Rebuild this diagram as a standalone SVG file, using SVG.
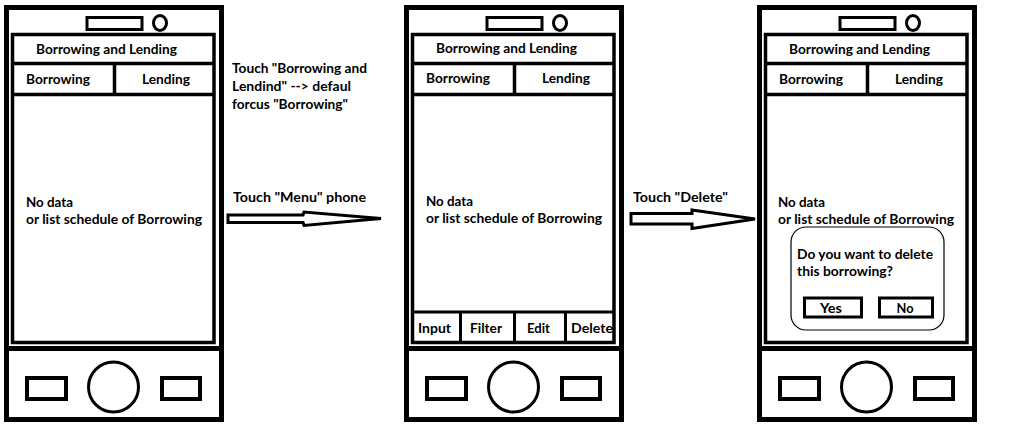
<svg xmlns="http://www.w3.org/2000/svg" width="1036" height="426" viewBox="0 0 1036 426">
<style>
.k{fill:none;stroke:#000}
.o{stroke-width:5}
.s{stroke-width:3.5}
.t{font-family:Lato,"Open Sans","Liberation Sans",sans-serif;font-weight:bold;font-size:14px;fill:#000}
.m{text-anchor:middle}
</style>
<defs>
<g id="phone">
<rect class="k o" x="6.5" y="7.5" width="215" height="412"/>
<rect class="k" stroke-width="3" x="87" y="17.5" width="55" height="12"/>
<ellipse class="k" stroke-width="3" cx="160" cy="23" rx="6.5" ry="7.5"/>
<rect class="k s" x="12.5" y="34.5" width="201.5" height="308"/>
<line class="k s" x1="12.5" y1="63.5" x2="214" y2="63.5"/>
<line class="k s" x1="12.5" y1="94.5" x2="214" y2="94.5"/>
<line class="k s" x1="114.5" y1="63.5" x2="114.5" y2="94.5"/>
<line class="k o" x1="6.5" y1="348.5" x2="221.5" y2="348.5"/>
<rect class="k" stroke-width="4" x="27" y="378" width="39" height="21"/>
<circle class="k" stroke-width="3" cx="113.5" cy="387" r="25"/>
<rect class="k" stroke-width="4" x="162" y="378" width="38" height="21"/>
</g>
</defs>
<rect width="1036" height="426" fill="#fff"/>
<g id="phone1">
<use href="#phone"/>
<text class="t" x="36" y="54" textLength="141" lengthAdjust="spacingAndGlyphs">Borrowing and Lending</text>
<text class="t" x="26" y="84" textLength="64" lengthAdjust="spacingAndGlyphs">Borrowing</text>
<text class="t" x="142" y="84" textLength="48" lengthAdjust="spacingAndGlyphs">Lending</text>
<text class="t" x="26" y="207" textLength="47" lengthAdjust="spacingAndGlyphs">No data</text>
<text class="t" x="26" y="224" textLength="176" lengthAdjust="spacingAndGlyphs">or list schedule of Borrowing</text>
</g>
<g id="phone2">
<use href="#phone" transform="translate(400,0)"/>
<line class="k" stroke-width="3" x1="412.5" y1="312" x2="614" y2="312"/>
<line class="k" stroke-width="3" x1="460.5" y1="312" x2="460.5" y2="342"/>
<line class="k" stroke-width="3" x1="514.5" y1="312" x2="514.5" y2="342"/>
<line class="k" stroke-width="3" x1="565.5" y1="312" x2="565.5" y2="342"/>
<text class="t" x="436" y="53" textLength="141" lengthAdjust="spacingAndGlyphs">Borrowing and Lending</text>
<text class="t" x="426" y="83" textLength="64" lengthAdjust="spacingAndGlyphs">Borrowing</text>
<text class="t" x="542" y="83" textLength="48" lengthAdjust="spacingAndGlyphs">Lending</text>
<text class="t" x="426" y="206" textLength="47" lengthAdjust="spacingAndGlyphs">No data</text>
<text class="t" x="426" y="223" textLength="176" lengthAdjust="spacingAndGlyphs">or list schedule of Borrowing</text>
<text class="t" x="418" y="333" textLength="33" lengthAdjust="spacingAndGlyphs">Input</text>
<text class="t" x="470" y="333" textLength="32" lengthAdjust="spacingAndGlyphs">Filter</text>
<text class="t" x="527" y="333" textLength="23" lengthAdjust="spacingAndGlyphs">Edit</text>
<text class="t" x="571" y="333" textLength="42" lengthAdjust="spacingAndGlyphs">Delete</text>
</g>
<g id="phone3">
<use href="#phone" transform="translate(753,0)"/>
<text class="t" x="789" y="54" textLength="141" lengthAdjust="spacingAndGlyphs">Borrowing and Lending</text>
<text class="t" x="779" y="84" textLength="64" lengthAdjust="spacingAndGlyphs">Borrowing</text>
<text class="t" x="895" y="84" textLength="48" lengthAdjust="spacingAndGlyphs">Lending</text>
<text class="t" x="778" y="207" textLength="47" lengthAdjust="spacingAndGlyphs">No data</text>
<text class="t" x="778" y="224" textLength="176" lengthAdjust="spacingAndGlyphs">or list schedule of Borrowing</text>
</g>
<g id="dialog">
<rect class="k" stroke-width="1.2" x="791" y="227" width="153" height="103" rx="15"/>
<text class="t" x="797" y="259" textLength="136" lengthAdjust="spacingAndGlyphs">Do you want to delete</text>
<text class="t" x="797" y="276" textLength="96" lengthAdjust="spacingAndGlyphs">this borrowing?</text>
<rect class="k" stroke-width="3" x="804.5" y="298" width="57" height="19"/>
<rect class="k" stroke-width="3" x="879.5" y="298" width="53" height="19"/>
<text class="t m" x="831" y="313" textLength="22" lengthAdjust="spacingAndGlyphs">Yes</text>
<text class="t m" x="905" y="313" textLength="17" lengthAdjust="spacingAndGlyphs">No</text>
</g>
<g id="connectors">
<polygon class="k" stroke-width="3" fill="#fff" points="228,215 303,215 304,212 381,218.5 304,225.5 303,222.5 228,222.5"/>
<polygon class="k" stroke-width="3" fill="#fff" points="631,213.5 692,213.5 692,210 755,219 692,228.5 692,224 631,224"/>
</g>
<g id="notes">
<text class="t" x="232" y="73" textLength="135" lengthAdjust="spacingAndGlyphs">Touch "Borrowing and</text>
<text class="t" x="232" y="91" textLength="119" lengthAdjust="spacingAndGlyphs">Lendind" --&gt; defaul</text>
<text class="t" x="232" y="109" textLength="116" lengthAdjust="spacingAndGlyphs">forcus "Borrowing"</text>
<text class="t" x="233" y="202" textLength="133" lengthAdjust="spacingAndGlyphs">Touch "Menu" phone</text>
<text class="t" x="633" y="202" textLength="95" lengthAdjust="spacingAndGlyphs">Touch "Delete"</text>
</g>
</svg>
